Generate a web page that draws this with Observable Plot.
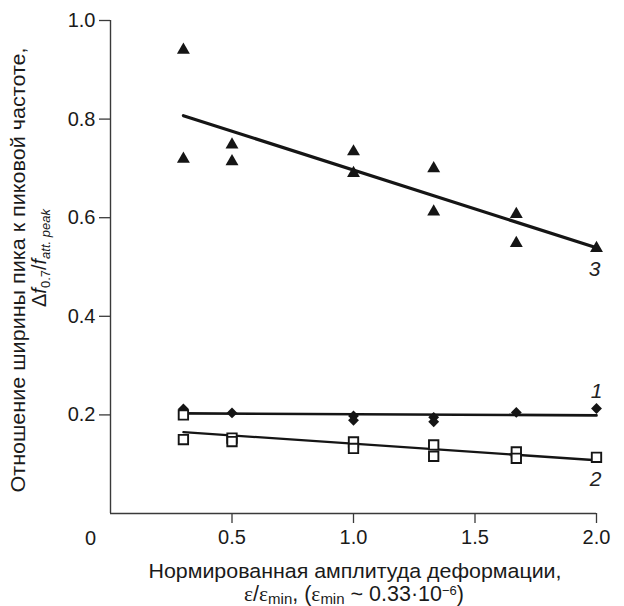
<!DOCTYPE html>
<html><head><meta charset="utf-8">
<script src="https://cdn.jsdelivr.net/npm/d3@7"></script>
<script src="https://cdn.jsdelivr.net/npm/@observablehq/plot@0.6"></script>
<style>body{margin:0;background:#fff}</style>
</head><body><div id="chart"></div>
<script>
// ---- data ----
const xTicks = [0.5, 1.0, 1.5, 2.0];
const yTicks = [0.2, 0.4, 0.6, 0.8, 1.0];

// series 3 (filled triangles)
const s3X = [0.3, 0.3, 0.5, 0.5, 1.0, 1.0, 1.33, 1.33, 1.67, 1.67, 2.0];
const s3Y = [0.940, 0.719, 0.748, 0.714, 0.734, 0.690, 0.700, 0.612, 0.607, 0.548, 0.538];
// series 1 (filled diamonds)
const s1X = [0.3, 0.5, 1.0, 1.0, 1.33, 1.33, 1.67, 2.0];
const s1Y = [0.212, 0.204, 0.198, 0.189, 0.195, 0.186, 0.205, 0.213];
// series 2 (open squares)
const s2X = [0.3, 0.3, 0.5, 0.5, 1.0, 1.0, 1.33, 1.33, 1.67, 1.67, 2.0];
const s2Y = [0.200, 0.150, 0.153, 0.146, 0.145, 0.132, 0.139, 0.116, 0.125, 0.112, 0.114];

// fitted lines
const fitX = [0.3, 2.0];
const fit1Y = [0.203, 0.199];
const fit2Y = [0.165, 0.108];
const fit3Y = [0.807, 0.539];
const seriesNames = ["1", "2", "3"];

const yTitle1 = "Отношение ширины пика к пиковой частоте,";
const xTitle1 = "Нормированная амплитуда деформации,";

// ---- build ----
const pts = (xs, ys) => xs.map((x, i) => ({x, y: ys[i]}));
const tri = pts(s3X, s3Y), dia = pts(s1X, s1Y), sq = pts(s2X, s2Y);
const fits = [
  {name: seriesNames[0], data: pts(fitX, fit1Y), w: 2.7, dx: 0, dy: -24},
  {name: seriesNames[1], data: pts(fitX, fit2Y), w: 2.3, dx: -1, dy: 19},
  {name: seriesNames[2], data: pts(fitX, fit3Y), w: 3.2, dx: -2, dy: 21}
];
const ink = "#151515", axisInk = "#3a3a3a";
const font = "'Liberation Sans', Arial, sans-serif";

const plot = Plot.plot({
  width: 624, height: 606,
  marginLeft: 110, marginRight: 28, marginTop: 20, marginBottom: 93,
  style: {fontFamily: font, fontSize: "20px", color: "#1a1a1a", background: "#fff", overflow: "visible"},
  x: {domain: [0, 2]},
  y: {domain: [0, 1]},
  marks: [
    Plot.axisX({ticks: xTicks, tickFormat: d3.format(".1f"), tickSize: 10, tickPadding: 6, label: null, stroke: axisInk, strokeWidth: 1.3, fontSize: 20}),
    Plot.axisY({ticks: yTicks, tickFormat: d3.format(".1f"), tickSize: 11, tickPadding: 4, label: null, stroke: axisInk, strokeWidth: 1.3, fontSize: 20}),
    Plot.ruleX([0], {stroke: axisInk, strokeWidth: 1.4}),
    Plot.ruleY([0], {stroke: axisInk, strokeWidth: 1.4}),
    Plot.text(["0"], {x: () => 0, y: () => 0, text: d => d, dx: -20, dy: 25, fontSize: 20}),
    ...fits.map(f => Plot.line(f.data, {x: "x", y: "y", stroke: ink, strokeWidth: f.w})),
    Plot.dot(dia, {x: "x", y: "y", symbol: "diamond2", r: 4.9, fill: ink, stroke: null}),
    Plot.dot(sq, {x: "x", y: "y", symbol: "square", r: 5.3, fill: "#fff", stroke: ink, strokeWidth: 1.9}),
    Plot.dot(tri, {x: "x", y: "y", symbol: "triangle", r: 4.8, fill: ink, stroke: null}),
    ...fits.map(f => Plot.text([f.data[f.data.length - 1]], {x: "x", y: "y", text: () => f.name, dx: f.dx, dy: f.dy, fontSize: 21, fontStyle: "italic", fill: "#222"}))
  ]
});
document.getElementById("chart").append(plot);

// ---- axis titles (multi-line, with sub/superscripts) ----
const svg = d3.select(plot);
// y title line 1
svg.append("text").attr("transform", "translate(25,270) rotate(-90)")
  .attr("text-anchor", "middle").attr("font-family", font).attr("font-size", 20).attr("fill", "#1a1a1a")
  .attr("textLength", 445).attr("lengthAdjust", "spacingAndGlyphs")
  .text(yTitle1);
// y title line 2
const t2 = svg.append("text").attr("transform", "translate(46,258) rotate(-90)")
  .attr("text-anchor", "middle").attr("font-family", font).attr("font-size", 20).attr("fill", "#1a1a1a");
t2.append("tspan").text("Δ");
t2.append("tspan").attr("font-style", "italic").text("f");
t2.append("tspan").attr("font-size", 13).attr("dy", 4).text("0.7");
t2.append("tspan").attr("dy", -4).text("/");
t2.append("tspan").attr("font-style", "italic").text("f");
t2.append("tspan").attr("font-size", 13).attr("font-style", "italic").attr("dy", 4).text("att. peak");
// x title line 1
svg.append("text").attr("x", 355).attr("y", 578)
  .attr("text-anchor", "middle").attr("font-family", font).attr("font-size", 20.5).attr("fill", "#1a1a1a")
  .attr("textLength", 413).attr("lengthAdjust", "spacingAndGlyphs")
  .text(xTitle1);
// x title line 2
const x2 = svg.append("text").attr("x", 354).attr("y", 601)
  .attr("text-anchor", "middle").attr("font-family", font).attr("font-size", 21.5).attr("fill", "#1a1a1a");
const eps = (sel) => sel.append("tspan").attr("font-family", "'Liberation Serif', serif").text("ε");
eps(x2); x2.append("tspan").text("/"); eps(x2);
x2.append("tspan").attr("font-size", 15).attr("dy", 3).text("min");
x2.append("tspan").attr("dy", -3).text(", (");
eps(x2);
x2.append("tspan").attr("font-size", 15).attr("dy", 3).text("min");
x2.append("tspan").attr("dy", -3).text(" ~ 0.33·10");
x2.append("tspan").attr("font-size", 13).attr("dy", -6).text("−6");
x2.append("tspan").attr("dy", 6).text(")");
</script>
</body></html>
